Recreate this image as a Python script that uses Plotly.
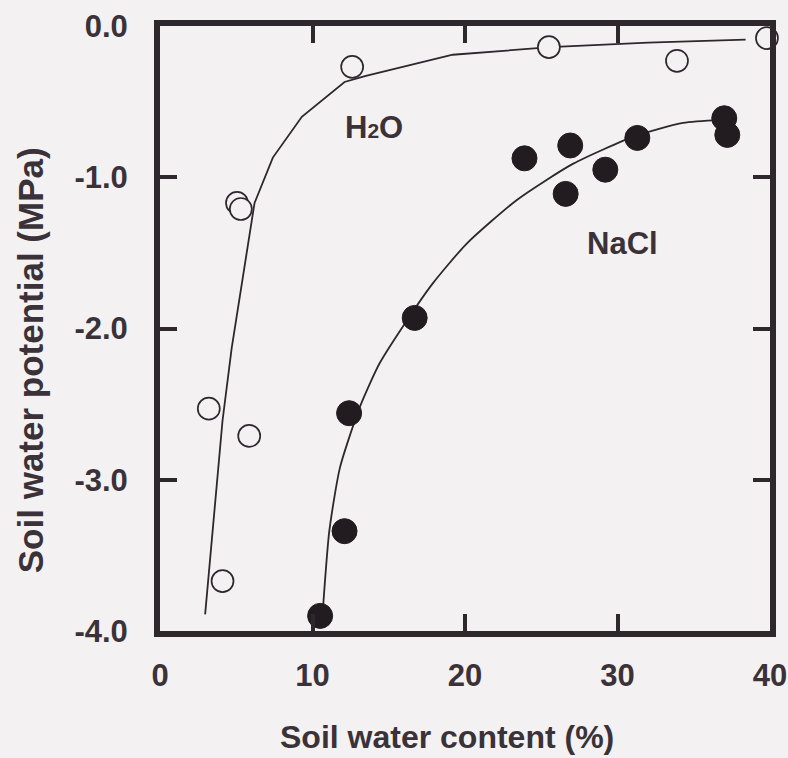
import plotly.graph_objects as go

# Measured points: soil water content (%) vs soil water potential (MPa)
h2o_content = [12.6, 25.5, 33.9, 39.8, 5.05, 5.3, 3.2, 5.85, 4.1]
h2o_potential = [-0.27, -0.14, -0.23, -0.08, -1.17, -1.21, -2.53, -2.71, -3.67]

nacl_content = [23.9, 26.9, 26.6, 29.2, 31.3, 37.0, 37.2, 16.7, 12.4, 12.1, 10.5]
nacl_potential = [-0.875, -0.79, -1.11, -0.95, -0.74, -0.61, -0.72, -1.93, -2.56, -3.34, -3.9]

# Fitted retention curves
h2o_fit_x = [2.96, 3.55, 4.1, 4.7, 5.4, 6.2, 7.4, 9.3, 12.1, 13.5, 19.2, 25.6, 32.0, 38.4]
h2o_fit_y = [-3.89, -3.23, -2.61, -2.13, -1.68, -1.17, -0.87, -0.60, -0.37, -0.33, -0.19, -0.14, -0.11, -0.09]

nacl_fit_x = [10.66, 11.1, 11.8, 13.1, 14.4, 16.3, 17.9, 20.1, 23.4, 27.1, 31.1, 34.3, 36.8]
nacl_fit_y = [-3.89, -3.34, -2.92, -2.52, -2.23, -1.93, -1.70, -1.44, -1.15, -0.91, -0.73, -0.64, -0.62]

x_ticks = [0, 10, 20, 30, 40]
y_ticks = [0, -1, -2, -3, -4]
y_tick_text = ["0.0", "-1.0", "-2.0", "-3.0", "-4.0"]

INK = "#2e272c"
TEXT = "#3a3238"
BG = "#f4f1f3"
FONT = "Liberation Sans, Arial, sans-serif"

fig = go.Figure()

fig.add_trace(go.Scatter(x=h2o_fit_x, y=h2o_fit_y, mode="lines",
                         line=dict(color=INK, width=1.8),
                         hoverinfo="skip", showlegend=False))
fig.add_trace(go.Scatter(x=nacl_fit_x, y=nacl_fit_y, mode="lines",
                         line=dict(color=INK, width=1.8, shape="spline", smoothing=0.6),
                         hoverinfo="skip", showlegend=False))

fig.add_trace(go.Scatter(x=h2o_content, y=h2o_potential, mode="markers", name="H2O",
                         marker=dict(symbol="circle", size=22, color=BG,
                                     line=dict(color=INK, width=1.7)),
                         cliponaxis=False, showlegend=False))
fig.add_trace(go.Scatter(x=nacl_content, y=nacl_potential, mode="markers", name="NaCl",
                         marker=dict(symbol="circle", size=25, color="#221b20",
                                     line=dict(color="#221b20", width=1)),
                         cliponaxis=False, showlegend=False))

fig.add_annotation(x=14.0, y=-0.67, text="H<span style='font-size:21px'>2</span>O",
                   showarrow=False, font=dict(family=FONT, size=31, color=TEXT))
fig.add_annotation(x=30.3, y=-1.44, text="NaCl",
                   showarrow=False, font=dict(family=FONT, size=31, color=TEXT))

# Axis titles
fig.add_annotation(xref="paper", yref="paper", x=0.47, y=-0.175,
                   xanchor="center", yanchor="middle",
                   text="Soil water content (%)", showarrow=False,
                   font=dict(family=FONT, size=32, color=TEXT))
fig.add_annotation(xref="paper", yref="paper", x=-0.212, y=0.447, textangle=-90,
                   xanchor="center", yanchor="middle",
                   text="Soil water potential (MPa)", showarrow=False,
                   font=dict(family=FONT, size=35, color=TEXT))

axis_common = dict(showgrid=False, zeroline=False, showline=True, linecolor=INK,
                   linewidth=6, mirror="ticks", ticks="inside", ticklen=17,
                   tickwidth=4, tickcolor=INK, automargin=False,
                   tickfont=dict(family=FONT, size=31, color=TEXT))

fig.update_xaxes(range=[0, 40], tickvals=x_ticks, ticktext=[str(v) for v in x_ticks],
                 ticklabelstandoff=12, **axis_common)
fig.update_yaxes(range=[-4, 0], tickvals=y_ticks, ticktext=y_tick_text,
                 ticklabelstandoff=20, **axis_common)

fig.update_layout(
    width=788, height=758,
    margin=dict(l=160, r=18, t=26, b=127),
    paper_bgcolor=BG, plot_bgcolor=BG,
    font=dict(family=FONT, size=31, color=TEXT, weight="bold"),
)

fig.write_html("out.html")
